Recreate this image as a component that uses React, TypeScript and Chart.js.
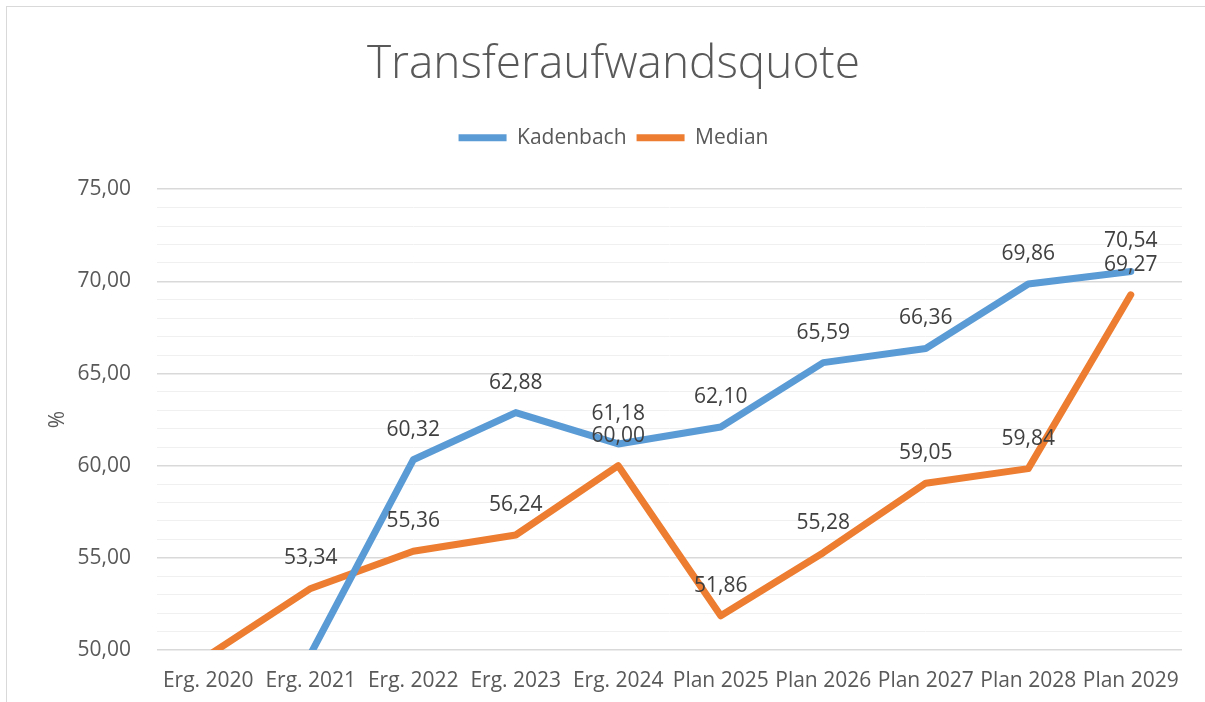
import React, { useEffect, useRef } from "react";
import { Chart, registerables } from "chart.js";

Chart.register(...registerables);

const categories = [
  "Erg. 2020",
  "Erg. 2021",
  "Erg. 2022",
  "Erg. 2023",
  "Erg. 2024",
  "Plan 2025",
  "Plan 2026",
  "Plan 2027",
  "Plan 2028",
  "Plan 2029",
];
const kadenbach = [48.2, 49.8, 60.32, 62.88, 61.18, 62.1, 65.59, 66.36, 69.86, 70.54];
const median = [49.7, 53.34, 55.36, 56.24, 60.0, 51.86, 55.28, 59.05, 59.84, 69.27];
const yMin = 50;
const yMax = 75;
const yMajorStep = 5;
const yMinorStep = 1;

const FONT = "'Open Sans', 'Noto Sans', sans-serif";
const TEXT = "#595959";
const LABEL = "#404040";

const fmt = (v: number) => v.toFixed(2).replace(".", ",");

const dataLabels = {
  id: "dataLabels",
  afterDatasetsDraw(chart: any) {
    const ctx = chart.ctx;
    ctx.save();
    ctx.font = `21px ${FONT}`;
    ctx.fillStyle = LABEL;
    ctx.textAlign = "center";
    ctx.textBaseline = "middle";
    chart.data.datasets.forEach((ds: any, i: number) => {
      const meta = chart.getDatasetMeta(i);
      meta.data.forEach((pt: any, j: number) => {
        const v = ds.data[j];
        if (v < yMin || v > yMax) return;
        ctx.fillText(fmt(v), pt.x, pt.y - 30);
      });
    });
    ctx.restore();
  },
};

const legendMargin = {
  id: "legendMargin",
  beforeLayout(chart: any) {
    const lg = chart.legend;
    if (lg && !lg._fitWrapped) {
      const orig = lg.fit;
      lg.fit = function () {
        orig.call(this);
        this.height += 31;
      };
      lg._fitWrapped = true;
    }
  },
};

export default function App() {
  const ref = useRef<HTMLCanvasElement>(null);
  useEffect(() => {
    if (!ref.current) return;
    const chart = new Chart(ref.current, {
      type: "line",
      data: {
        labels: categories,
        datasets: [
          {
            label: "Kadenbach",
            data: kadenbach,
            borderColor: "#5B9BD5",
            backgroundColor: "#5B9BD5",
            borderWidth: 7,
            borderCapStyle: "round",
            borderJoinStyle: "round",
            pointRadius: 0,
            pointHoverRadius: 0,
            tension: 0,
            fill: false,
          },
          {
            label: "Median",
            data: median,
            borderColor: "#ED7D31",
            backgroundColor: "#ED7D31",
            borderWidth: 7,
            borderCapStyle: "round",
            borderJoinStyle: "round",
            pointRadius: 0,
            pointHoverRadius: 0,
            tension: 0,
            fill: false,
          },
        ],
      },
      options: {
        responsive: false,
        animation: false,
        events: [],
        layout: { padding: { left: 45, right: 23, top: 0, bottom: 9 } },
        plugins: {
          title: {
            display: true,
            text: "Transferaufwandsquote",
            color: TEXT,
            font: { family: FONT, size: 46, weight: "300" as any },
            padding: { top: 37, bottom: 25 },
          },
          legend: {
            display: true,
            position: "top",
            labels: {
              color: TEXT,
              font: { family: FONT, size: 21 },
              usePointStyle: true,
              pointStyle: "line",
              pointStyleWidth: 48,
              boxWidth: 48,
              boxHeight: 7,
              padding: 10,
            },
          },
          tooltip: { enabled: false },
        },
        scales: {
          x: {
            offset: true,
            grid: { display: false, drawTicks: false },
            border: { display: false },
            ticks: {
              color: TEXT,
              font: { family: FONT, size: 21 },
              padding: 18,
              autoSkip: false,
              maxRotation: 0,
              minRotation: 0,
            },
            afterFit(scale: any) {
              scale.height = 43;
            },
          },
          y: {
            min: yMin,
            max: yMax,
            border: { display: false },
            grid: {
              drawTicks: false,
              color: (c: any) => (c.tick && c.tick.value % yMajorStep === 0 ? "#D9D9D9" : "#F0F0F0"),
              lineWidth: (c: any) => (c.tick && c.tick.value % yMajorStep === 0 ? 1.5 : 1),
            },
            ticks: {
              stepSize: yMinorStep,
              color: TEXT,
              font: { family: FONT, size: 21 },
              padding: 26,
              autoSkip: false,
              callback: (v: any) => (Number(v) % yMajorStep === 0 ? fmt(Number(v)) : ""),
            },
            title: {
              display: true,
              text: "%",
              color: TEXT,
              font: { family: FONT, size: 21 },
              padding: { top: 0, bottom: 0 },
            },
            afterFit(scale: any) {
              scale.width = 112;
            },
          },
        },
      },
      plugins: [dataLabels, legendMargin],
    });
    return () => chart.destroy();
  }, []);

  return (
    <div style={{ position: "fixed", left: 0, top: 0, width: 1205, height: 702, background: "#fff", overflow: "hidden" }}>
      <div
        style={{
          position: "absolute",
          left: 6,
          top: 6,
          width: 1300,
          height: 800,
          borderLeft: "1.5px solid #D9D9D9",
          borderTop: "1.5px solid #D9D9D9",
        }}
      />
      <canvas ref={ref} width={1205} height={702} style={{ position: "absolute", left: 0, top: 0, display: "block" }} />
    </div>
  );
}
